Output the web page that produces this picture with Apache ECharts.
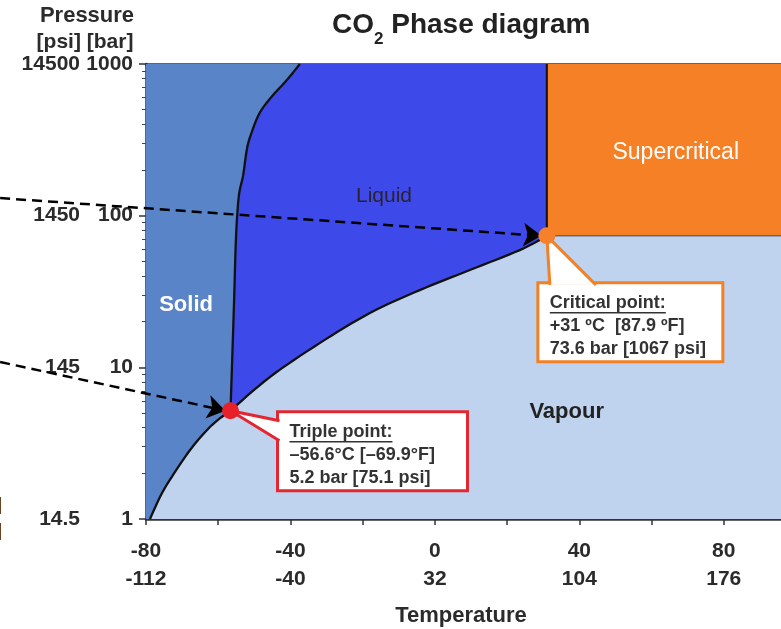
<!DOCTYPE html>
<html>
<head>
<meta charset="utf-8">
<title>CO2 Phase diagram</title>
<script src="https://cdn.jsdelivr.net/npm/echarts@6/dist/echarts.min.js"></script>
<style>
  html, body { margin: 0; padding: 0; background: #fff; }
  #chart { width: 781px; height: 629px; }
</style>
</head>
<body>
<div id="chart"></div>
<script>
// axis ticks: °C with the matching °F row, bar with the matching psi column
const tempTicksC = [-80, -40, 0, 40, 80];
const tempLabelsF = ['-112', '-40', '32', '104', '176'];
const pressureTicksBar = [1, 10, 100, 1000];
const pressureLabelsBar = ['1', '10', '100', '1000'];
const pressureLabelsPsi = ['14.5', '145', '1450', '14500'];

const T_MIN = -80, T_MAX = 100, P_MIN = 1, P_MAX = 1000;

const triplePoint = [-56.6, 5.18];
const criticalPoint = [31, 73.6];

// phase boundaries [°C, bar]
const sublimationCurve = [[-78.9, 1], [-76.1, 1.4], [-73.4, 1.81], [-67.8, 2.85], [-62.3, 4.04], [-57.6, 5.0], [-56.6, 5.18]];
const meltingCurve = [[-56.6, 5.18], [-56.2, 10], [-55.6, 27.8], [-55.2, 60], [-54.8, 96], [-54.2, 140], [-53.1, 185], [-52.0, 279], [-50.7, 356], [-48.4, 482], [-44.8, 624], [-41.0, 783], [-37.4, 1000]];
const vapourCurve = [[-56.6, 5.18], [-45.7, 8.63], [-31.8, 14.5], [-18.0, 22.8], [-4.2, 32.3], [9.7, 43.8], [23.5, 59.3], [31, 73.6]];

const regionNames = ['Solid', 'Liquid', 'Supercritical', 'Vapour'];
const regionLabelAt = [[-68.9, 25.7], [-14.1, 134.6], [66.7, 258.7], [36.5, 5.08]];

const tripleText = ['Triple point:', '\u201356.6°C [\u201369.9°F]', '5.2 bar [75.1 psi]'];
const criticalText = ['Critical point:', '+31 ºC  [87.9 ºF]', '73.6 bar [1067 psi]'];

// dashed arrows coming in from outside the plot
const arrowFrom = [[-120.4, 130.6], [-120.4, 10.84]];
const arrowTo = [[29.5, 73.6], [-58.0, 5.18]];

const FONT = '"Liberation Sans", Arial, Helvetica, sans-serif';
const TXT = '#2b2b2b';

// region outlines: plain [T, P] corners or whole boundary curves
const regions = [
  { color: '#bfd3ef', parts: [[T_MIN, P_MIN], [T_MAX, P_MIN], [T_MAX, P_MAX], [T_MIN, P_MAX]] },
  { color: '#5a84c8', parts: [[T_MIN, P_MIN], { curve: sublimationCurve }, { curve: meltingCurve }, [T_MIN, P_MAX]] },
  { color: '#3e49ea', parts: [{ curve: meltingCurve }, [criticalPoint[0], P_MAX], { curve: vapourCurve, reverse: true }] },
  { color: '#f68025', parts: [criticalPoint, [T_MAX, criticalPoint[1]], [T_MAX, P_MAX], [criticalPoint[0], P_MAX]] }
];
const boundaryCurves = [sublimationCurve, meltingCurve, vapourCurve];

const calloutTexts = [tripleText, criticalText];
const calloutStyle = [
  { color: '#e3262f', box: [47, 1, 190, 79], wedge: [[2, 9], [2, 29]] },
  { color: '#f48024', box: [-9, 47, 185, 79], wedge: [[12, 2], [58, 2]] }
];

const regionLabelStyle = [
  { color: '#fff', fontWeight: 'bold', fontSize: 22 },
  { color: '#2a2230', fontWeight: 'normal', fontSize: 21 },
  { color: '#fff', fontWeight: 'normal', fontSize: 23 },
  { color: '#222', fontWeight: 'bold', fontSize: 22 }
];

const measureCtx = document.createElement('canvas').getContext('2d');
function textWidth(t, font) {
  measureCtx.font = font;
  return measureCtx.measureText(t).width;
}

// catmull-rom through the projected points so the curves look drawn, not jagged
function spline(px) {
  const out = [];
  const steps = 8;
  for (let i = 0; i < px.length - 1; i++) {
    const p0 = px[i - 1] || px[i], p1 = px[i], p2 = px[i + 1], p3 = px[i + 2] || px[i + 1];
    for (let k = 0; k < steps; k++) {
      const t = k / steps, t2 = t * t, t3 = t2 * t;
      out.push([0, 1].map(function (d) {
        return 0.5 * (2 * p1[d] + (p2[d] - p0[d]) * t +
          (2 * p0[d] - 5 * p1[d] + 4 * p2[d] - p3[d]) * t2 +
          (3 * p1[d] - p0[d] - 3 * p2[d] + p3[d]) * t3);
      }));
    }
  }
  out.push(px[px.length - 1]);
  return out;
}

function curvePx(curve, api, reverse) {
  const px = curve.map(function (p) { return api.coord(p); });
  if (reverse) px.reverse();
  return spline(px);
}

const chart = echarts.init(document.getElementById('chart'));

function line(data, width, color) {
  return {
    type: 'line', data: data, symbol: 'none', silent: true, z: 2,
    lineStyle: { color: color || '#111', width: width }
  };
}

const option = {
  animation: false,
  title: {
    left: 332, top: 3, padding: 0,
    text: '{a|CO}{s|2}{a| Phase diagram}',
    textStyle: {
      rich: {
        a: { fontSize: 28, fontWeight: 'bold', color: '#222', lineHeight: 44, fontFamily: FONT },
        s: { fontSize: 17, fontWeight: 'bold', color: '#222', lineHeight: 16, padding: [28, 0, 0, 0], verticalAlign: 'top', fontFamily: FONT }
      }
    }
  },
  graphic: [
    { type: 'text', x: 87, y: 16, style: { text: 'Pressure', fontSize: 22, fontWeight: 'bold', fill: TXT, fontFamily: FONT, align: 'center', verticalAlign: 'middle' } },
    { type: 'text', x: 85, y: 42, style: { text: '[psi] [bar]', fontSize: 21, fontWeight: 'bold', fill: TXT, fontFamily: FONT, align: 'center', verticalAlign: 'middle' } },
    { type: 'text', x: 461, y: 616, style: { text: 'Temperature', fontSize: 22, fontWeight: 'bold', fill: TXT, fontFamily: FONT, align: 'center', verticalAlign: 'middle' } },
    { type: 'text', x: -4, y: 505, style: { text: ']', fontSize: 18, fontWeight: 'bold', fill: '#6a4020', fontFamily: FONT, verticalAlign: 'middle' } },
    { type: 'text', x: -4, y: 531, style: { text: ']', fontSize: 18, fontWeight: 'bold', fill: '#6a4020', fontFamily: FONT, verticalAlign: 'middle' } }
  ],
  grid: { left: 146, top: 64, width: 650, height: 455, containLabel: false, outerBoundsMode: 'none' },
  xAxis: [{
    type: 'value', min: T_MIN, max: T_MAX, interval: 20,
    axisLine: { show: true, onZero: false, lineStyle: { color: '#333', width: 2.5 } },
    axisTick: { show: true, length: 6, lineStyle: { color: '#333', width: 1.5 } },
    splitLine: { show: false },
    axisLabel: {
      margin: 18, lineHeight: 28, fontSize: 21, fontWeight: 'bold', color: TXT, fontFamily: FONT,
      formatter: function (v) {
        const i = tempTicksC.indexOf(v);
        return i < 0 ? '' : v + '\n' + tempLabelsF[i];
      }
    }
  }, {
    type: 'value', position: 'top', min: T_MIN, max: T_MAX,
    axisLine: { show: true, onZero: false, lineStyle: { color: '#333', width: 2.5 } },
    axisTick: { show: false }, axisLabel: { show: false }, splitLine: { show: false }
  }],
  yAxis: {
    type: 'log', logBase: 10, min: P_MIN, max: P_MAX,
    axisLine: { show: true, onZero: false, lineStyle: { color: '#333', width: 2.5 } },
    axisTick: { show: true, length: 7, lineStyle: { color: '#333', width: 1.5 } },
    minorTick: { show: true, splitNumber: 9, length: 4, lineStyle: { color: '#444', width: 1 } },
    splitLine: { show: false },
    axisLabel: {
      margin: 13,
      formatter: function (v) {
        const i = pressureTicksBar.indexOf(Math.round(v));
        return i < 0 ? '' : '{p|' + pressureLabelsPsi[i] + '}{b|' + pressureLabelsBar[i] + '}';
      },
      rich: {
        p: { width: 62, align: 'right', fontSize: 21, fontWeight: 'bold', color: TXT, fontFamily: FONT },
        b: { width: 53, align: 'right', fontSize: 21, fontWeight: 'bold', color: TXT, fontFamily: FONT }
      }
    }
  },
  series: [
    {
      // phase areas
      type: 'custom', z: 1, silent: true,
      data: regions.map(function () { return triplePoint; }),
      renderItem: function (params, api) {
        const r = regions[params.dataIndex];
        let pts = [];
        r.parts.forEach(function (part) {
          if (part.curve) pts = pts.concat(curvePx(part.curve, api, part.reverse));
          else pts.push(api.coord(part));
        });
        return { type: 'polygon', shape: { points: pts }, style: { fill: r.color } };
      }
    },
    {
      // phase boundary curves
      type: 'custom', z: 2, silent: true,
      data: boundaryCurves.map(function (c) { return c[0]; }),
      renderItem: function (params, api) {
        return {
          type: 'polyline',
          shape: { points: curvePx(boundaryCurves[params.dataIndex], api) },
          style: { fill: 'none', stroke: '#111', lineWidth: 2.3, lineJoin: 'round' }
        };
      }
    },
    line([criticalPoint, [criticalPoint[0], P_MAX]], 2),
    line([criticalPoint, [T_MAX, criticalPoint[1]]], 1, '#444'),
    {
      type: 'lines', coordinateSystem: 'cartesian2d', clip: false, silent: true, z: 3,
      symbol: ['none', 'arrow'], symbolSize: 18,
      lineStyle: { color: '#000', width: 2.5, type: [10, 6], opacity: 1, curveness: 0 },
      data: arrowFrom.map(function (f, i) { return { coords: [f, arrowTo[i]] }; })
    },
    {
      // callout boxes
      type: 'custom', z: 4, silent: true, clip: false,
      data: [triplePoint, criticalPoint],
      renderItem: function (params, api) {
        const s = calloutStyle[params.dataIndex];
        const lines = calloutTexts[params.dataIndex];
        const c = api.coord([api.value(0), api.value(1)]);
        const bx = c[0] + s.box[0], by = c[1] + s.box[1];
        const b1 = [bx + s.wedge[0][0], by + s.wedge[0][1]];
        const b2 = [bx + s.wedge[1][0], by + s.wedge[1][1]];
        const children = [
          { type: 'rect', shape: { x: bx, y: by, width: s.box[2], height: s.box[3] }, style: { fill: '#fff', stroke: s.color, lineWidth: 3 } },
          { type: 'polygon', shape: { points: [c, b1, b2] }, style: { fill: '#fff' } },
          { type: 'polyline', shape: { points: [b1, c, b2] }, style: { fill: 'none', stroke: s.color, lineWidth: 3 } }
        ];
        lines.forEach(function (t, i) {
          children.push({
            type: 'text', x: bx + 12, y: by + 20 + i * 23,
            style: { text: t, fontSize: 18, fontWeight: 'bold', fontFamily: FONT, fill: '#333', align: 'left', verticalAlign: 'middle' }
          });
        });
        const w = textWidth(lines[0], 'bold 18px ' + FONT);
        children.push({ type: 'line', shape: { x1: bx + 12, y1: by + 30, x2: bx + 12 + w, y2: by + 30 }, style: { stroke: '#333', lineWidth: 1.5 } });
        return { type: 'group', children: children };
      }
    },
    {
      type: 'scatter', z: 5, silent: true, symbolSize: 17,
      itemStyle: { opacity: 1 },
      data: [
        { value: triplePoint, itemStyle: { color: '#e8202a', opacity: 1 } },
        { value: criticalPoint, itemStyle: { color: '#f7802a', opacity: 1 } }
      ]
    },
    {
      type: 'scatter', z: 6, silent: true, symbolSize: 0,
      itemStyle: { opacity: 1 },
      label: { show: true, position: 'inside', formatter: '{b}', fontFamily: FONT, opacity: 1 },
      data: regionNames.map(function (n, i) {
        return { name: n, value: regionLabelAt[i], label: regionLabelStyle[i] };
      })
    }
  ]
};

chart.setOption(option);
</script>
</body>
</html>
